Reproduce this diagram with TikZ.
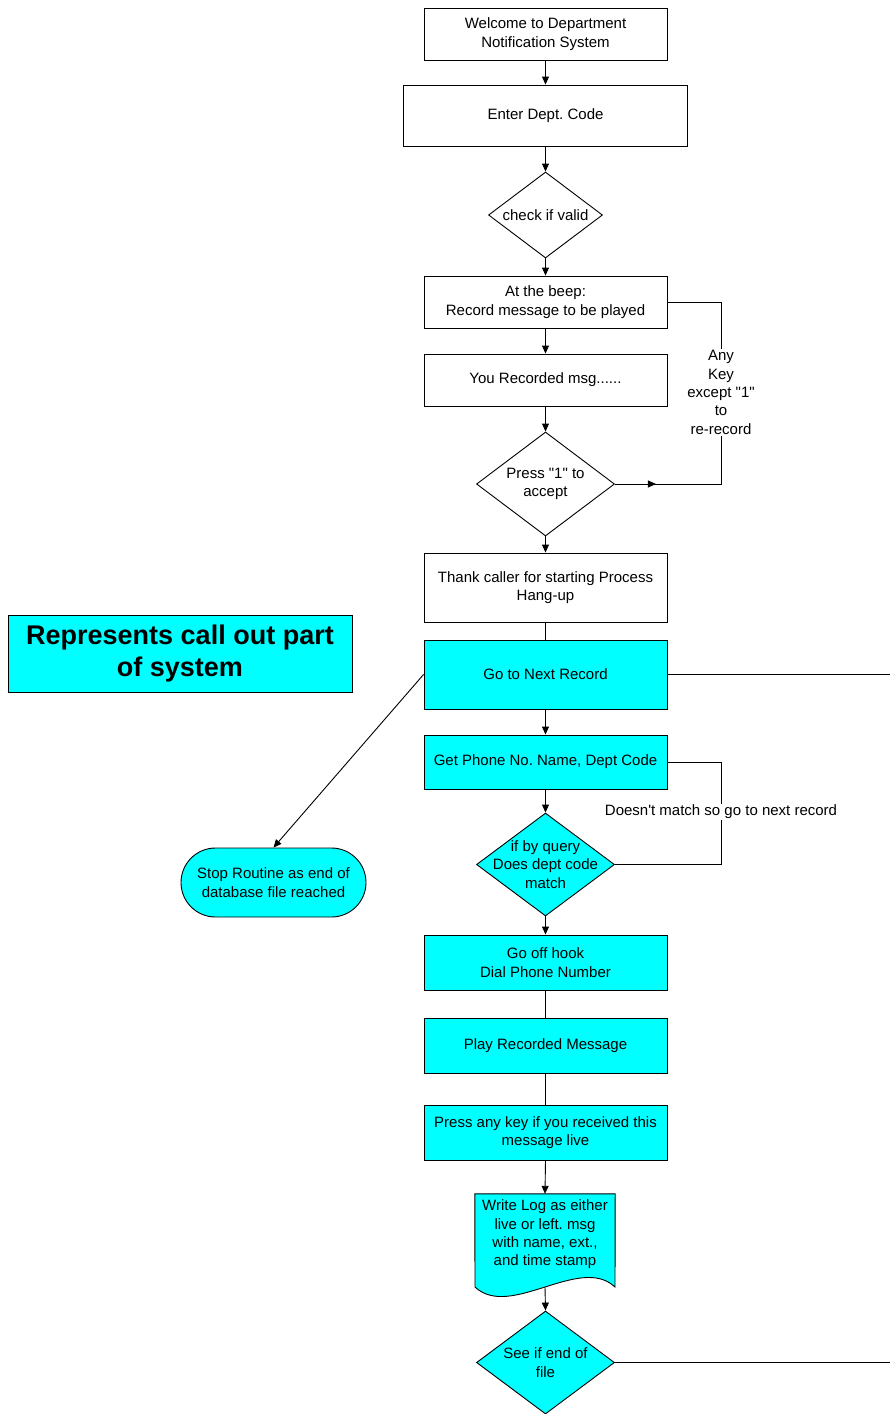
\documentclass[tikz,border=0pt]{standalone}
\usepackage{fontspec}
\setmainfont{Liberation Sans}
\frenchspacing
\usetikzlibrary{shapes.geometric,arrows.meta,decorations.markings}
\definecolor{callout}{HTML}{00FFFF}
\begin{document}
\begin{tikzpicture}[x=1pt,y=-1pt,
  every node/.style={font=\fontsize{15}{18.4}\selectfont, align=center, inner sep=0pt},
  box/.style={draw=black, line width=0.9pt, rectangle, minimum width=243pt},
  cyanbox/.style={box, fill=callout},
  dia/.style={draw=black, line width=0.9pt, diamond, inner sep=0pt},
  conn/.style={line width=0.9pt, draw=black},
  arr/.style={conn, -{Triangle[length=8pt,width=7pt]}},
  lbl/.style={fill=white, inner sep=1pt},
  tip/.style={decoration={markings, mark=at position 41pt with {\arrow{Triangle[length=8pt,width=7pt]}}}, postaction={decorate}},
]
\useasboundingbox (0,0) rectangle (890,1414);

% call-in part
\node[box, minimum height=52pt] (welcome) at (545.5,34) {Welcome to Department\\Notification System};
\node[box, minimum width=284pt, minimum height=61pt] (dept) at (545.5,115.5) {Enter Dept. Code};
\node[dia, minimum width=114pt, minimum height=86pt] (valid) at (545.5,215) {};
\node (validtxt) at (valid) {check if valid};
\node[box, minimum height=52pt] (beep) at (545.5,302) {At the beep:\\Record message to be played};
\node[box, minimum height=52pt] (recorded) at (545.5,380) {You Recorded msg......};
\node[dia, minimum width=138pt, minimum height=104pt] (accept) at (545.5,484) {};
\node (accepttxt) at (accept) {Press \textquotedbl 1\textquotedbl\ to\\accept};
\node[box, minimum height=69pt] (thank) at (545.5,587.5) {Thank caller for starting Process\\Hang-up};

% call-out part
\node[cyanbox, minimum height=69pt] (next) at (545.5,674.5) {Go to Next Record};
\node[cyanbox, minimum height=54pt] (phone) at (545.5,762) {Get Phone No. Name, Dept Code};
\node[dia, fill=callout, minimum width=138pt, minimum height=103pt] (match) at (545.5,864.5) {};
\node (matchtxt) at (match) {if by query\\Does dept code\\match};
\node[cyanbox, minimum height=55pt] (hook) at (545.5,962.5) {Go off hook\\Dial Phone Number};
\node[cyanbox, minimum height=55pt] (play) at (545.5,1045.5) {Play Recorded Message};
\node[cyanbox, minimum height=55pt] (anykey) at (545.5,1132.5) {Press any key if you received this\\message live};

% document shape for the log
\node[minimum width=140pt, minimum height=104pt] (log) at (545,1246) {};
\draw[conn, fill=callout] (475,1287) -- (log.north west) -- (log.north east) -- (615,1287)
  .. controls (580,1254) and (510,1320) .. (475,1287) -- cycle;
\node (logtxt) at (545,1234.5) {Write Log as either\\live or left. msg\\with name, ext.,\\and time stamp};
\coordinate (logbot) at (545,1287);

\node[dia, fill=callout, minimum width=138pt, minimum height=103pt] (eof) at (545.5,1362.5) {};
\node (eoftxt) at (eof) {See if end of\\file};

\node[draw=black, fill=callout, line width=0.9pt, minimum width=344pt, minimum height=77pt,
  font=\bfseries\fontsize{27}{32}\selectfont] (legend) at (180,653.5) {Represents call out part\\of system};
\node[draw=black, fill=callout, line width=0.9pt, rounded corners=34.5pt, minimum width=185pt,
  minimum height=69pt] (stop) at (273.5,882.5) {Stop Routine as end of\\database file reached};

% main flow
\draw[arr] (welcome.south) -- (dept.north);
\draw[arr] (dept.south) -- (valid.north);
\draw[arr] (valid.south) -- (beep.north);
\draw[arr] (beep.south) -- (recorded.north);
\draw[arr] (recorded.south) -- (accept.north);
\draw[arr] (accept.south) -- (thank.north);
\draw[conn] (thank.south) -- (next.north);
\draw[arr] (next.south) -- (phone.north);
\draw[arr] (phone.south) -- (match.north);
\draw[arr] (match.south) -- (hook.north);
\draw[conn] (hook.south) -- (play.north);
\draw[conn] (play.south) -- (anykey.north);
\draw[arr] (anykey.south) -- (log.north);
\draw[arr] (logbot) -- (eof.north);
\draw[arr] (next.west) -- (stop.north);

% loops back
\coordinate (loopx) at (721,0);
\draw[conn, tip] (accept.east) -- (accept.east -| loopx) -- (beep.east -| loopx) -- (beep.east);
\node[lbl] (rerecord) at (721,392.5) {Any\\Key\\except \textquotedbl 1\textquotedbl\\to\\re-record};
\draw[conn] (phone.east) -- (phone.east -| loopx) -- (match.east -| loopx) -- (match.east);
\node[lbl] (nomatch) at (721,812) {Doesn\textquotesingle t match so go to next record};

% lines running off to the right
\coordinate (edgeA) at (890,674.5);
\coordinate (edgeB) at (890,1362.5);
\draw[conn] (next.east) -- (edgeA);
\draw[conn] (eof.east) -- (edgeB);
\end{tikzpicture}
\end{document}
